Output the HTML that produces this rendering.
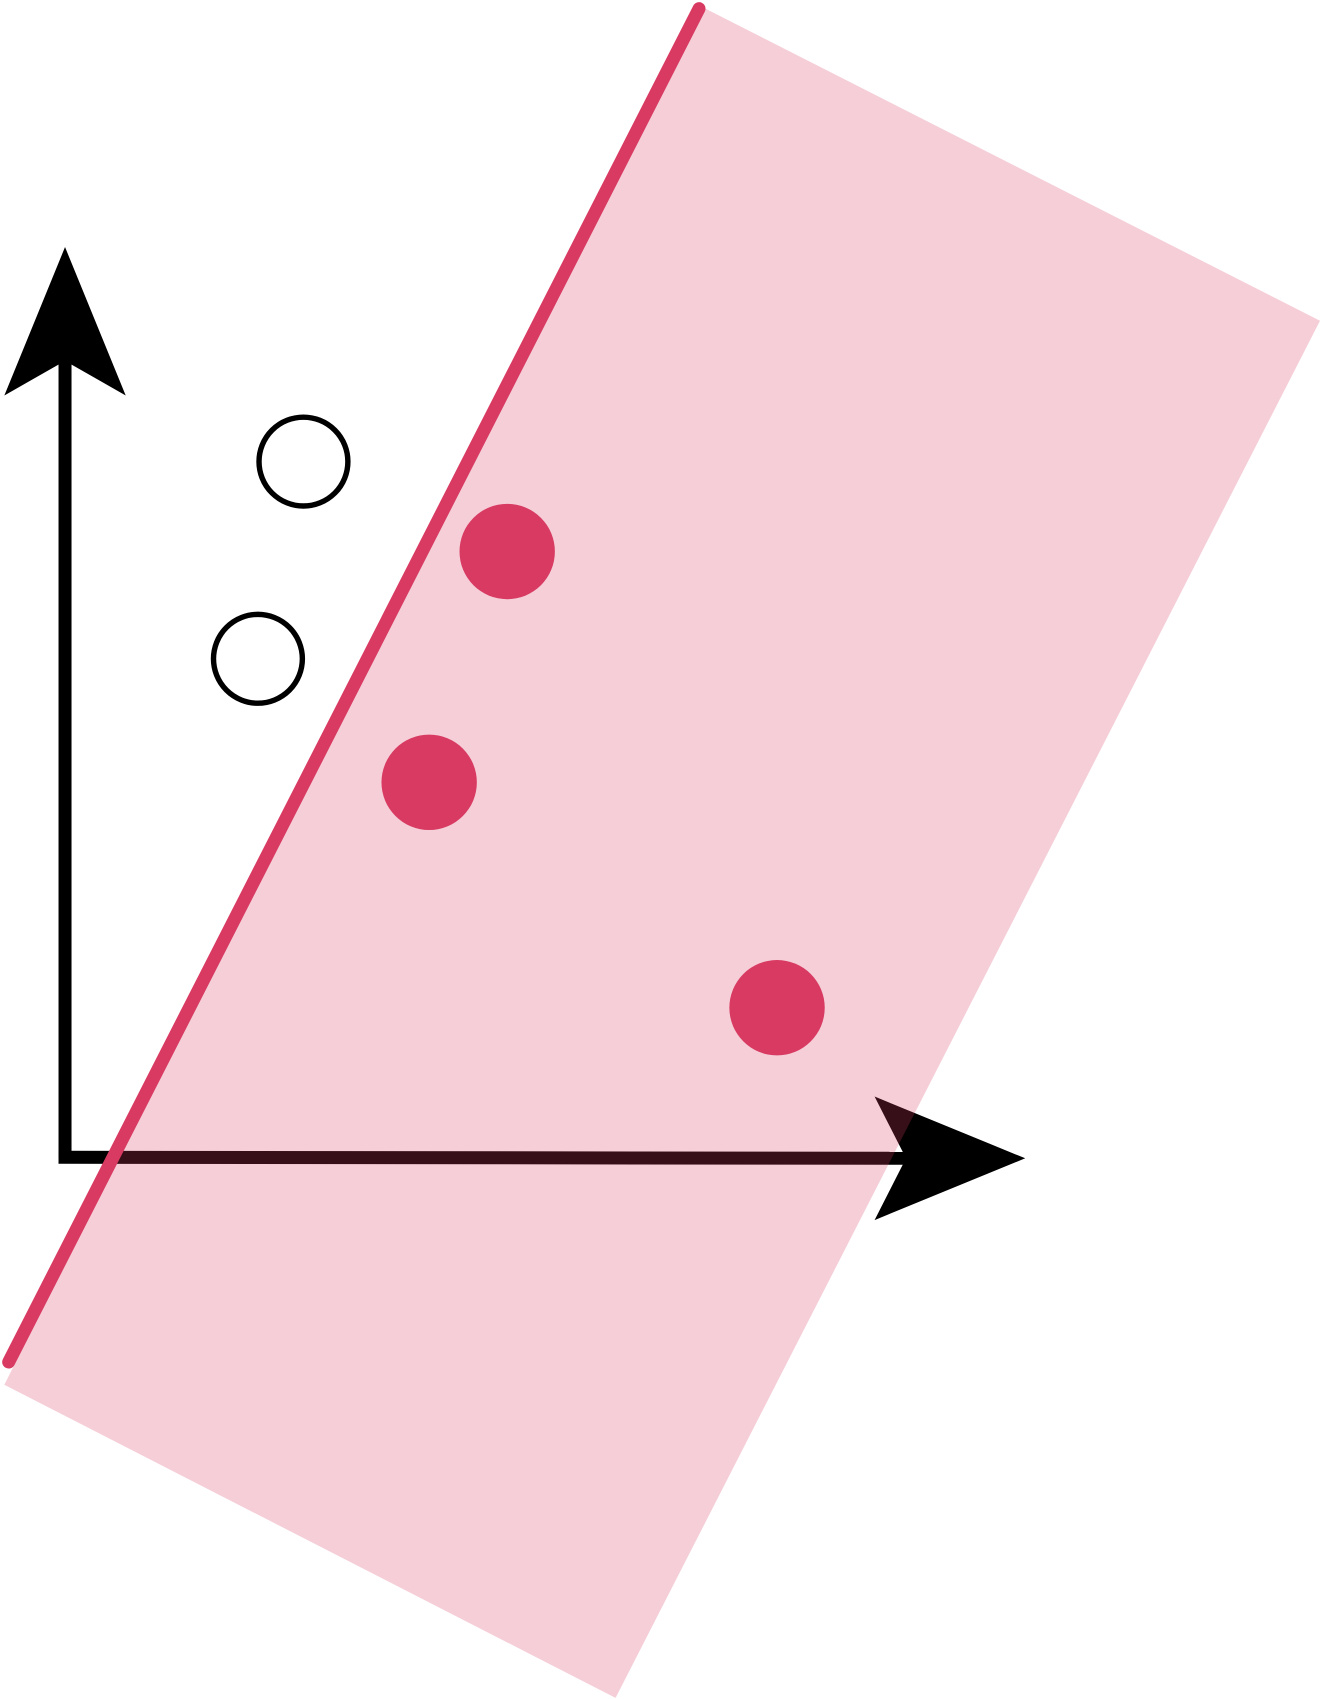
<!DOCTYPE html>
<html><head><meta charset="utf-8"><style>html,body{margin:0;padding:0;background:#fff}svg{display:block}</style></head>
<body>
<svg id="chart" width="1320" height="1699" viewBox="0 0 1218 1568" preserveAspectRatio="none" xmlns="http://www.w3.org/2000/svg">
<g id="axes">
  <line x1="60" y1="1069" x2="60" y2="320" stroke="#000" stroke-width="12"/>
  <polygon points="60,228 116,365 60,333 4,365" fill="#000"/>
  <line x1="54" y1="1068" x2="840" y2="1069" stroke="#000" stroke-width="12"/>
  <polygon points="946,1069 807,1126 836,1069 807,1012" fill="#000"/>
</g>
<polygon points="645,5 1218,296 568,1567 4,1278" fill="#d83a62" fill-opacity="0.25"/>
<line x1="8" y1="1257" x2="645" y2="8" stroke="#d83a62" stroke-width="12" stroke-linecap="round"/>
<g id="points"></g>
</svg>
<script>
const openX = [2.20, 1.78];
const openY = [6.42, 4.60];
const filledX = [4.08, 3.36, 6.57];
const filledY = [5.59, 3.46, 1.38];
function xScale(v){ return 60 + v*100; }
function yScale(v){ return 1068 - v*100; }
const g = document.getElementById('points');
const NS = 'http://www.w3.org/2000/svg';
openX.forEach((v,i)=>{
  const c = document.createElementNS(NS,'circle');
  c.setAttribute('cx', xScale(v)); c.setAttribute('cy', yScale(openY[i]));
  c.setAttribute('r', 41); c.setAttribute('fill','#fff'); c.setAttribute('stroke','#000'); c.setAttribute('stroke-width',5);
  
  
  g.appendChild(c);
});
filledX.forEach((v,i)=>{
  const c = document.createElementNS(NS,'circle');
  c.setAttribute('cx', xScale(v)); c.setAttribute('cy', yScale(filledY[i]));
  c.setAttribute('r', 44); c.setAttribute('fill','#d83a62');
  
  
  g.appendChild(c);
});
</script>
</body></html>
